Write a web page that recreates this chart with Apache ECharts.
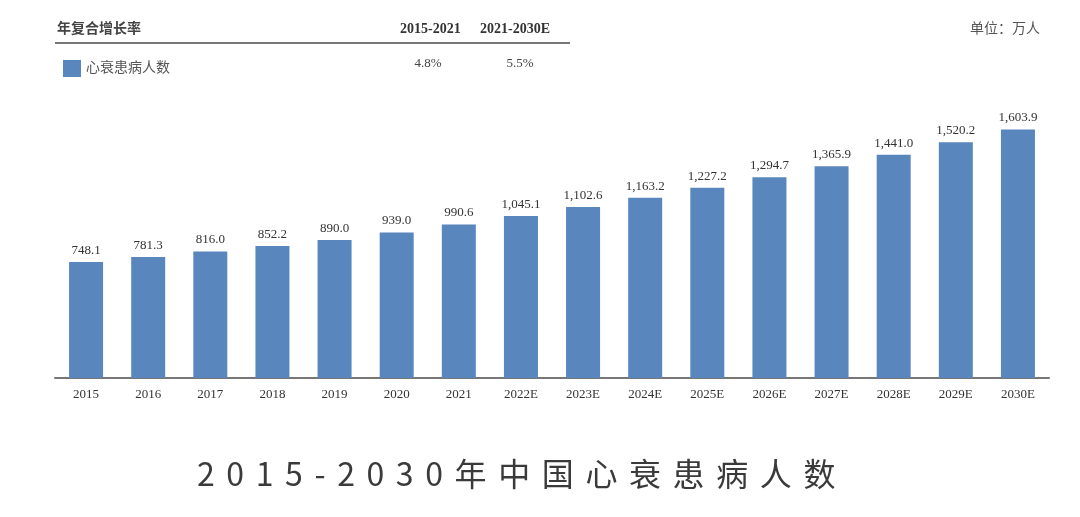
<!DOCTYPE html>
<html><head><meta charset="utf-8">
<script src="https://cdn.jsdelivr.net/npm/echarts@6/dist/echarts.min.js"></script>
<style>
html,body{margin:0;padding:0;background:#fff;}
#wrap{position:relative;width:1080px;height:517px;}
#chart{width:1080px;height:517px;}
#ttl{position:absolute;left:0;width:1044px;top:450px;text-align:center;font-family:"Noto Sans CJK SC","Noto Sans",sans-serif;font-size:32px;letter-spacing:11.6px;color:#3a3a3a;line-height:44px;}
</style></head>
<body><div id="wrap"><div id="chart"></div><div id="ttl">2015-2030年中国心衰患病人数</div></div>
<script>
const categories = ['2015','2016','2017','2018','2019','2020','2021','2022E','2023E','2024E','2025E','2026E','2027E','2028E','2029E','2030E'];
const patients = [748.1,781.3,816.0,852.2,890.0,939.0,990.6,1045.1,1102.6,1163.2,1227.2,1294.7,1365.9,1441.0,1520.2,1603.9];
const seriesName = '心衰患病人数';
const cagrHeaders = ['2015-2021','2021-2030E'];
const cagrValues = ['4.8%','5.5%'];
const tableTitle = '年复合增长率';
const unitText = '单位：万人';

const serif = '"Liberation Serif","Times New Roman","Noto Sans CJK SC",serif';
const chart = echarts.init(document.getElementById('chart'));
chart.setOption({
  backgroundColor:'#fff',
  animation:false,
  grid:{left:55,right:31,top:68,bottom:139},
  legend:{
    data:[{name:seriesName,icon:'rect'}],left:58,top:55,itemWidth:18,itemHeight:17,itemGap:6,
    textStyle:{fontFamily:serif,fontSize:14,color:'#555'},selectedMode:false
  },
  xAxis:{
    type:'category',data:categories,
    axisLine:{lineStyle:{color:'#777',width:2}},
    axisTick:{show:false},
    axisLabel:{fontFamily:serif,fontSize:13,color:'#333',margin:10}
  },
  yAxis:{type:'value',min:0,max:2000,show:false,splitLine:{show:false}},
  series:[{
    name:seriesName,type:'bar',data:patients,barWidth:34,
    itemStyle:{color:'#5886bd'},
    label:{show:true,position:'top',distance:5,fontFamily:serif,fontSize:13,color:'#333',
      formatter:p=>p.value.toLocaleString('en-US',{minimumFractionDigits:1,maximumFractionDigits:1})}
  }],
  graphic:[
    {type:'text',left:57,top:22,style:{text:tableTitle,font:'bold 14px '+serif,fill:'#444'}},
    {type:'text',left:400,top:22,style:{text:cagrHeaders[0],font:'bold 14px '+serif,fill:'#333'}},
    {type:'text',left:480,top:22,style:{text:cagrHeaders[1],font:'bold 14px '+serif,fill:'#333'}},
    {type:'line',shape:{x1:55,y1:43,x2:570,y2:43},style:{stroke:'#777',lineWidth:2}},
    {type:'text',x:428,y:64,style:{text:cagrValues[0],font:'13px '+serif,fill:'#444',align:'center',verticalAlign:'middle'}},
    {type:'text',x:520,y:64,style:{text:cagrValues[1],font:'13px '+serif,fill:'#444',align:'center',verticalAlign:'middle'}},
    {type:'text',right:40,top:22,style:{text:unitText,font:'14px '+serif,fill:'#555'}}
  ]
});
</script></body></html>
